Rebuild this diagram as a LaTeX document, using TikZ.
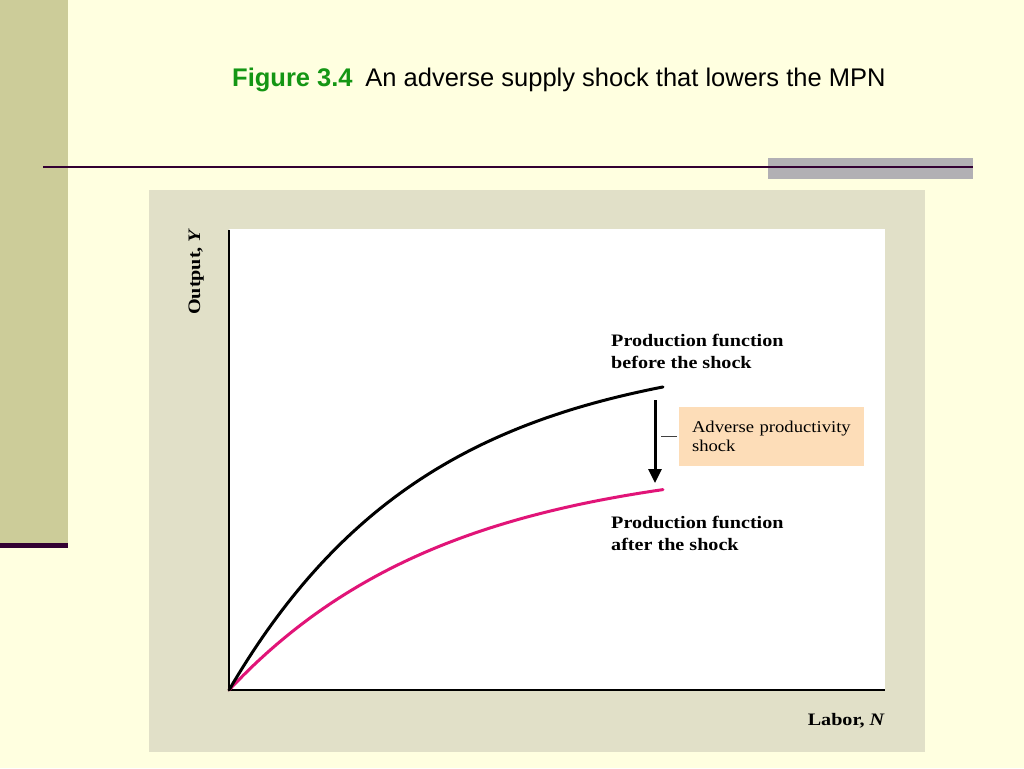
\documentclass[tikz,border=0pt]{standalone}
\usepackage{fontspec}
\setmainfont{Liberation Serif}
\newfontfamily\arialf{Liberation Sans}
\newfontfamily\palb[FakeStretch=1.15]{Liberation Serif}
\newfontfamily\palr[FakeStretch=1.13]{Liberation Serif}
\usetikzlibrary{arrows.meta}
\definecolor{bgc}{RGB}{255,255,224}
\definecolor{barc}{RGB}{204,204,153}
\definecolor{darkl}{RGB}{51,0,51}
\definecolor{grayr}{RGB}{178,176,180}
\definecolor{panelc}{RGB}{225,224,200}
\definecolor{peach}{RGB}{253,221,184}
\definecolor{pinkc}{RGB}{225,20,120}
\definecolor{figgreen}{RGB}{20,150,20}
\tikzset{
  boldlab/.style={inner sep=0pt, align=left, font={\palb\bfseries\fontsize{17.5}{22}\selectfont}},
  axislab/.style={inner sep=0pt, font={\palb\bfseries\fontsize{17.5}{22}\selectfont}},
  curveline/.style={line width=3pt, line cap=round},
  axisline/.style={line width=1.5pt},
  shockarrow/.style={line width=3pt, -{Triangle[width=13pt,length=14pt]}},
  ticklin/.style={line width=0.8pt, draw=black!75},
  shockbox/.style={fill=peach, draw=none, minimum width=185pt, minimum height=59pt, inner xsep=13pt, align=left, text width=159pt, font={\palr\fontsize{16.5}{19.5}\selectfont}}
}
\begin{document}
\begin{tikzpicture}[x=1pt,y=-1pt]
\useasboundingbox (0,0) rectangle (1024,768);
\fill[bgc] (0,0) rectangle (1024,768);
% left bar
\fill[barc] (0,0) rectangle (68,543);
\fill[darkl] (0,543) rectangle (68,548);
% top rule
\fill[grayr] (768,158) rectangle (973,179);
\fill[darkl] (43,165.8) rectangle (973,168.3);
% title
\node[anchor=base west, inner sep=0pt, font={\arialf\fontsize{25.5}{29}\selectfont}] (title) at (232,86)
  {\textcolor{figgreen}{\bfseries Figure 3.4}\hspace{0.5em}An adverse supply shock that lowers the MPN};
% panel
\fill[panelc] (149,190) rectangle (925,752);
\fill[white] (229,229) rectangle (885,690);
% axes
\coordinate (ytop) at (229,229.5);
\coordinate (orig) at (229,690);
\coordinate (xend) at (885,690);
\draw[axisline] (ytop) -- (orig) -- (xend);
\node[axislab, anchor=base east] (xlab) at (885,725) {Labor, \textit{N}};
\node[axislab, anchor=base east, rotate=90] (ylab) at (200,228) {Output, \textit{Y}};
% curves
\draw[curveline, pinkc] plot[domain=0:434, samples=90] ({229+\x},{690-232*(1-exp(-0.0046*\x))});
\draw[curveline, black] plot[domain=0:434, samples=90] ({229+\x},{690-342*(1-exp(-0.005*\x))});
% labels
\node[boldlab, anchor=north west] (before) at (611,334.3) {Production function\\before the shock};
\node[boldlab, anchor=north west] (after) at (611,516.3) {Production function\\after the shock};
% arrow
\coordinate (atop) at (655,400);
\coordinate (abot) at (655,483);
\draw[shockarrow] (atop) -- (abot);
% box
\node[shockbox] (sbox) at (771.5,436.5) {Adverse productivity\\shock};
\draw[ticklin] ([xshift=-2pt]sbox.west) -- ([xshift=-18pt]sbox.west);
\end{tikzpicture}
\end{document}
